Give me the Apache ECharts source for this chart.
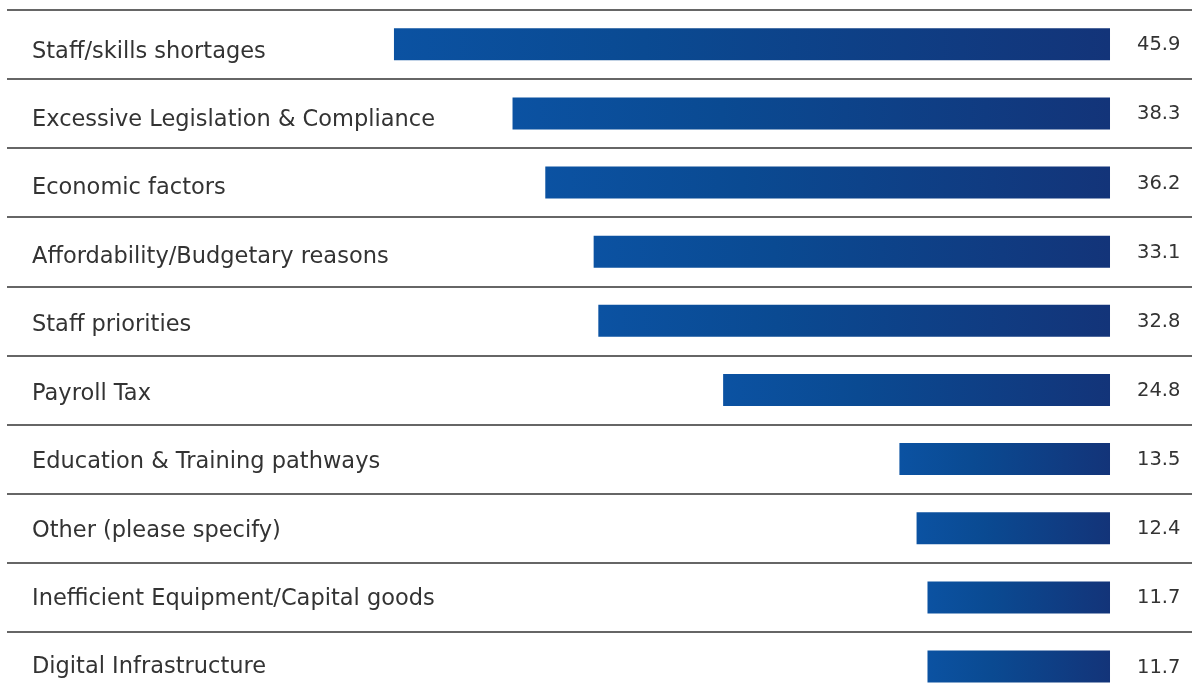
<!DOCTYPE html>
<html>
<head>
<meta charset="utf-8">
<title>Barriers</title>
<script src="https://cdn.jsdelivr.net/npm/echarts@6/dist/echarts.min.js"></script>
<style>
  html, body { margin: 0; padding: 0; background: #ffffff; }
  #chart { width: 1192px; height: 695px; }
</style>
</head>
<body>
<div id="chart"></div>
<script>
// Categories, top to bottom
const categories = [
  'Staff/skills shortages',
  'Excessive Legislation & Compliance',
  'Economic factors',
  'Affordability/Budgetary reasons',
  'Staff priorities',
  'Payroll Tax',
  'Education & Training pathways',
  'Other (please specify)',
  'Inefficient Equipment/Capital goods',
  'Digital Infrastructure'
];

// Percentage of respondents
const values = [45.9, 38.3, 36.2, 33.1, 32.8, 24.8, 13.5, 12.4, 11.7, 11.7];

const chart = echarts.init(document.getElementById('chart'), null, { renderer: 'canvas' });

const FONT = '"DejaVu Sans", "Open Sans", sans-serif';

const barGradient = new echarts.graphic.LinearGradient(0, 0, 1, 0, [
  { offset: 0, color: '#0b52a2' },
  { offset: 0.35, color: '#0a4a92' },
  { offset: 1, color: '#133479' }
]);

chart.setOption({
  animation: false,
  backgroundColor: '#ffffff',
  grid: [
    // bars and row separators; the last row runs past the bottom edge
    { left: 7, right: 0, top: 9.7, height: 691.4, containLabel: false, outerBoundsMode: 'none' },
    // category label column
    { left: 7, width: 500, top: 17.6, height: 684.1, containLabel: false, outerBoundsMode: 'none' }
  ],
  xAxis: [{
    type: 'value',
    gridIndex: 0,
    inverse: true,
    min: -5.256,
    max: 70.705,
    show: false,
    splitLine: { show: false }
  }, {
    type: 'value',
    gridIndex: 1,
    show: false,
    splitLine: { show: false }
  }],
  yAxis: [{
    type: 'category',
    gridIndex: 0,
    data: categories,
    inverse: true,
    axisLine: { show: false },
    axisTick: { show: false },
    axisLabel: { show: false },
    splitLine: { show: true, lineStyle: { color: '#333333', width: 1.5 } }
  }, {
    type: 'category',
    gridIndex: 1,
    data: categories,
    inverse: true,
    axisLine: { show: false },
    axisTick: { show: false },
    splitLine: { show: false },
    axisLabel: {
      inside: true,
      margin: 25,
      align: 'left',
      color: '#333333',
      fontFamily: FONT,
      fontSize: 22.5
    }
  }],
  series: [{
    type: 'bar',
    xAxisIndex: 0,
    yAxisIndex: 0,
    data: values,
    barWidth: 32,
    itemStyle: { color: barGradient },
    label: {
      show: true,
      position: 'right',
      distance: 27,
      color: '#333333',
      fontFamily: FONT,
      fontSize: 19.5,
      offset: [0, 1],
      formatter: p => p.value.toFixed(1)
    }
  }]
});
</script>
</body>
</html>
